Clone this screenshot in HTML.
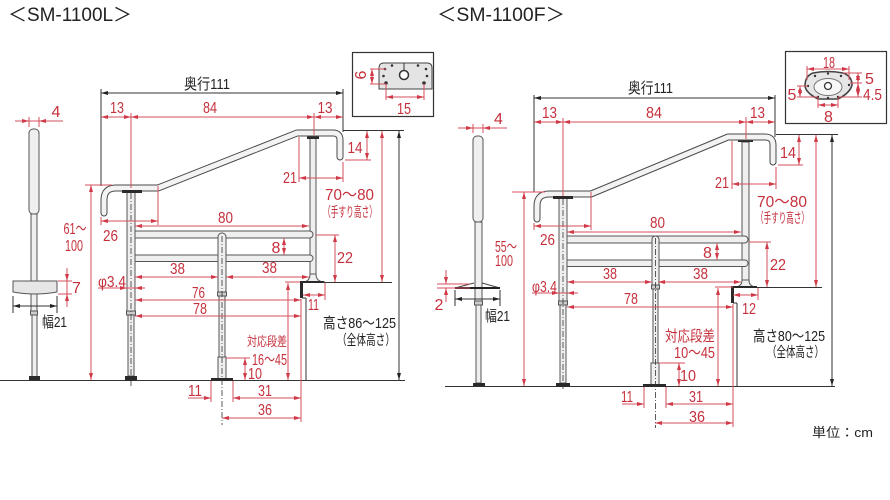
<!DOCTYPE html>
<html><head><meta charset="utf-8">
<style>
html,body{margin:0;padding:0;background:#fff;}
svg{display:block;}
text{font-family:"Liberation Sans","Noto Sans CJK JP",sans-serif;}
.r{fill:#c5303c;font-size:16px;}
.k{fill:#222;font-size:15px;}
.d{stroke:#d4505c;stroke-width:1;fill:none;}
.d2{stroke:#d4505c;stroke-width:1;fill:none;marker-start:url(#ar);marker-end:url(#ar);}
.d1{stroke:#d4505c;stroke-width:1;fill:none;marker-end:url(#ar);}
.b{stroke:#333;stroke-width:1;fill:none;}
.b2{stroke:#333;stroke-width:1;fill:none;marker-start:url(#ak);marker-end:url(#ak);}
.cl{stroke:#333;stroke-width:0.8;stroke-dasharray:6 2 1 2;fill:none;}
.p{fill:#efefef;stroke:#555;stroke-width:1;}
.dk{fill:#2a2a2a;}
</style></head><body>
<svg width="890" height="500" viewBox="0 0 890 500" xmlns="http://www.w3.org/2000/svg">
<defs>
<marker id="ar" viewBox="0 0 10 10" refX="10" refY="5" markerWidth="7" markerHeight="5" orient="auto-start-reverse" markerUnits="userSpaceOnUse" preserveAspectRatio="none"><path d="M0,1L10,5L0,9z" fill="#d03a48"/></marker>
<marker id="ak" viewBox="0 0 10 10" refX="10" refY="5" markerWidth="7" markerHeight="5" orient="auto-start-reverse" markerUnits="userSpaceOnUse" preserveAspectRatio="none"><path d="M0,1L10,5L0,9z" fill="#222"/></marker>
</defs>

<!-- ================= LEFT : SM-1100L ================= -->
<text x="8" y="21" class="k" style="font-size:19px" textLength="124" lengthAdjust="spacingAndGlyphs">＜SM-1100L＞</text>

<!-- side view post -->
<rect x="29" y="129" width="10" height="85" rx="4" class="p"/>
<rect x="31" y="214" width="6" height="97" class="p"/>
<rect x="30.5" y="311" width="7" height="4" fill="#ccc" stroke="#555"/>
<rect x="32" y="315" width="5" height="62" class="p"/>
<rect x="29" y="376" width="11" height="4" class="dk"/>
<path d="M13,281 L57,281 L57,292 Q35,296 13,292 Z" fill="#e6e6e6" stroke="#555"/>

<!-- ground / floors -->
<line x1="0" y1="380.5" x2="405" y2="380.5" class="b"/>
<line x1="300" y1="282.5" x2="392" y2="282.5" class="b"/>
<line x1="306" y1="298" x2="306" y2="380" class="b"/>
<line x1="302" y1="298" x2="306" y2="298" class="b"/>

<!-- right post -->
<rect x="310" y="138" width="6" height="140" class="p"/>
<path d="M310,274 Q310,282 302,282 L325,282 Q316,282 316,274 Z" class="p"/>
<rect x="307" y="136" width="12" height="3" class="dk"/>
<rect x="303" y="134.5" width="22" height="2" class="dk"/>
<rect x="300" y="281" width="3" height="17" class="dk"/>
<rect x="300" y="281" width="24" height="2" class="dk"/>

<!-- rails -->
<rect x="131" y="231" width="182" height="7" rx="3.5" class="p"/>
<rect x="131" y="255" width="182" height="6.5" rx="3.2" class="p"/>

<!-- center post -->
<rect x="218" y="233" width="8" height="61" rx="4" class="p"/>
<rect x="217.5" y="292" width="9" height="4" fill="#ccc" stroke="#555"/>
<rect x="219" y="296" width="6" height="61" class="p"/>
<rect x="218" y="357" width="8" height="22" class="p"/>
<rect x="211" y="378" width="22" height="3" class="dk"/>

<!-- left post -->
<rect x="127" y="191" width="8" height="120" class="p"/>
<rect x="126.5" y="311" width="9" height="4" fill="#ccc" stroke="#555"/>
<rect x="128" y="315" width="6" height="61" class="p"/>
<rect x="125" y="376" width="12" height="5" class="dk"/>

<!-- handrail -->
<path d="M104,213 L104,200 Q104,188 116,188 L158,188 L297,133 L333,133 Q340,133 340,140 L340,157" stroke="#4a4a4a" stroke-width="7" fill="none" stroke-linecap="round" stroke-linejoin="round"/>
<path d="M104,213 L104,200 Q104,188 116,188 L158,188 L297,133 L333,133 Q340,133 340,140 L340,157" stroke="#f3f3f3" stroke-width="5" fill="none" stroke-linecap="round" stroke-linejoin="round"/>
<rect x="122" y="190" width="20" height="3" class="dk"/>

<!-- centerlines -->
<line x1="131" y1="193" x2="131" y2="386" class="cl"/>
<line x1="222" y1="236" x2="222" y2="425" class="cl"/>

<!-- black dims -->
<line x1="101" y1="93" x2="343" y2="93" class="b2"/>
<line x1="101" y1="89" x2="101" y2="186" class="b"/>
<line x1="343" y1="89" x2="343" y2="132" class="b"/>
<line x1="343" y1="130.5" x2="404" y2="130.5" class="b"/>
<line x1="399" y1="131" x2="399" y2="380" class="b2"/>
<line x1="13" y1="306" x2="57" y2="306" class="b2"/>
<line x1="13" y1="296" x2="13" y2="313" class="b"/>
<line x1="57" y1="296" x2="57" y2="313" class="b"/>

<!-- red dims -->
<line x1="101" y1="117" x2="131" y2="117" class="d2"/>
<line x1="131" y1="117" x2="314" y2="117" class="d2"/>
<line x1="314" y1="117" x2="343" y2="117" class="d2"/>
<line x1="131" y1="113" x2="131" y2="188" class="d"/>
<line x1="314" y1="113" x2="314" y2="135" class="d"/>
<line x1="299" y1="137" x2="299" y2="182" class="d"/>
<line x1="343" y1="162" x2="343" y2="182" class="d"/>
<line x1="299" y1="178" x2="343" y2="178" class="d2"/>
<line x1="367" y1="131" x2="367" y2="160" class="d2"/>
<line x1="345" y1="160" x2="371" y2="160" class="d"/>
<line x1="382" y1="131" x2="382" y2="282" class="d2"/>
<line x1="135" y1="226" x2="309" y2="226" class="d2"/>
<line x1="284" y1="238" x2="284" y2="255" class="d2"/>
<line x1="316" y1="235" x2="339" y2="235" class="d"/>
<line x1="335" y1="235" x2="335" y2="282" class="d2"/>
<line x1="101" y1="221" x2="158" y2="221" class="d2"/>
<line x1="158" y1="186" x2="158" y2="225" class="d"/>
<line x1="101" y1="217" x2="101" y2="225" class="d"/>
<line x1="85" y1="185" x2="112" y2="185" class="d"/>
<line x1="91" y1="185" x2="91" y2="380" class="d2"/>
<line x1="135" y1="277" x2="218" y2="277" class="d2"/>
<line x1="226" y1="277" x2="309" y2="277" class="d2"/>
<line x1="98" y1="288" x2="145" y2="288" class="d"/>
<line x1="110" y1="288" x2="127" y2="288" class="d1"/>
<line x1="145" y1="288" x2="135" y2="288" class="d1"/>
<line x1="135" y1="300" x2="301" y2="300" class="d2"/>
<line x1="135" y1="316" x2="301" y2="316" class="d2"/>
<line x1="303" y1="295" x2="325" y2="295" class="d2"/>
<line x1="325" y1="283" x2="325" y2="300" class="d"/>
<line x1="285" y1="282" x2="300" y2="282" class="d"/>
<line x1="288" y1="283" x2="288" y2="380" class="d2"/>
<line x1="226" y1="358" x2="250" y2="358" class="d"/>
<line x1="245" y1="358" x2="245" y2="380" class="d2"/>
<line x1="211" y1="381" x2="211" y2="402" class="d"/>
<line x1="233" y1="381" x2="233" y2="402" class="d"/>
<line x1="301" y1="299" x2="301" y2="422" class="d"/>
<line x1="188" y1="398" x2="211" y2="398" class="d1"/>
<line x1="233" y1="398" x2="301" y2="398" class="d2"/>
<line x1="222" y1="418" x2="301" y2="418" class="d2"/>
<!-- side 4 / 7 -->
<line x1="15" y1="121" x2="63" y2="121" class="d"/>
<line x1="15" y1="121" x2="29" y2="121" class="d1"/>
<line x1="63" y1="121" x2="39" y2="121" class="d1"/>
<line x1="29" y1="117" x2="29" y2="127" class="d"/>
<line x1="39" y1="117" x2="39" y2="127" class="d"/>
<line x1="58" y1="281" x2="72" y2="281" class="d"/>
<line x1="58" y1="294" x2="72" y2="294" class="d"/>
<line x1="67" y1="268" x2="67" y2="307" class="d"/>
<line x1="67" y1="268" x2="67" y2="281" class="d1"/>
<line x1="67" y1="307" x2="67" y2="294" class="d1"/>

<!-- left inset -->
<rect x="352.5" y="52.5" width="81" height="64" fill="none" stroke="#333" stroke-width="1.2"/>
<path d="M379,89 L379,68 Q379,63 384,63 L427,63 Q432,63 432,68 L432,89 Z" fill="#e4e4e4" stroke="#444"/>
<line x1="404" y1="63" x2="404" y2="71" stroke="#333"/>
<circle cx="404" cy="75" r="4.5" fill="#fff" stroke="#333" stroke-width="1.5"/>
<g fill="#333"><circle cx="385" cy="69" r="1.3"/><circle cx="392" cy="65.5" r="1.3"/><circle cx="418" cy="65.5" r="1.3"/><circle cx="426" cy="69" r="1.3"/><circle cx="383.5" cy="76" r="1.3"/><circle cx="427" cy="76" r="1.3"/><circle cx="386" cy="83" r="1.8"/><circle cx="424" cy="83" r="1.8"/></g>
<line x1="370" y1="69" x2="386" y2="69" class="d"/>
<line x1="370" y1="84" x2="386" y2="84" class="d"/>
<line x1="372" y1="69" x2="372" y2="84" class="d2"/>
<line x1="386" y1="84" x2="386" y2="100" class="d"/>
<line x1="424" y1="84" x2="424" y2="100" class="d"/>
<line x1="386" y1="97" x2="424" y2="97" class="d2"/>
<text x="404" y="114" class="r" text-anchor="middle" textLength="14" lengthAdjust="spacingAndGlyphs">15</text>
<text transform="translate(366,75) rotate(-90)" class="r" text-anchor="middle">6</text>

<!-- left texts -->
<text x="207" y="89" class="k" text-anchor="middle" textLength="46" lengthAdjust="spacingAndGlyphs">奥行111</text>
<text x="117" y="113" class="r" text-anchor="middle" textLength="14" lengthAdjust="spacingAndGlyphs">13</text>
<text x="210" y="113" class="r" text-anchor="middle" textLength="14" lengthAdjust="spacingAndGlyphs">84</text>
<text x="325" y="113" class="r" text-anchor="middle" textLength="15" lengthAdjust="spacingAndGlyphs">13</text>
<text x="56" y="117" class="r" text-anchor="middle">4</text>
<text x="355" y="153" class="r" text-anchor="middle" textLength="15" lengthAdjust="spacingAndGlyphs">14</text>
<text x="290" y="183" class="r" text-anchor="middle" textLength="14" lengthAdjust="spacingAndGlyphs">21</text>
<text x="349.5" y="200" class="r" style="font-size:16px" text-anchor="middle" textLength="49" lengthAdjust="spacingAndGlyphs">70～80</text>
<text x="350" y="217" class="r" style="font-size:14px" text-anchor="middle" textLength="54" lengthAdjust="spacingAndGlyphs">（手すり高さ）</text>
<text x="225.5" y="223" class="r" text-anchor="middle" textLength="15" lengthAdjust="spacingAndGlyphs">80</text>
<text x="276" y="253" class="r" text-anchor="middle">8</text>
<text x="345" y="263" class="r" text-anchor="middle" textLength="16" lengthAdjust="spacingAndGlyphs">22</text>
<text x="75" y="234" class="r" text-anchor="middle" textLength="23" lengthAdjust="spacingAndGlyphs">61～</text>
<text x="74" y="251" class="r" text-anchor="middle" textLength="18" lengthAdjust="spacingAndGlyphs">100</text>
<text x="110.5" y="241" class="r" text-anchor="middle" textLength="15" lengthAdjust="spacingAndGlyphs">26</text>
<text x="76.5" y="293" class="r" text-anchor="middle">7</text>
<text x="54.5" y="327" class="k" text-anchor="middle" textLength="25" lengthAdjust="spacingAndGlyphs">幅21</text>
<text x="177.5" y="274" class="r" text-anchor="middle" textLength="15" lengthAdjust="spacingAndGlyphs">38</text>
<text x="269.5" y="273" class="r" text-anchor="middle" textLength="15" lengthAdjust="spacingAndGlyphs">38</text>
<text x="112" y="287" class="r" text-anchor="middle" textLength="28" lengthAdjust="spacingAndGlyphs">φ3.4</text>
<text x="198.5" y="298" class="r" text-anchor="middle" textLength="13" lengthAdjust="spacingAndGlyphs">76</text>
<text x="200" y="314" class="r" text-anchor="middle" textLength="14" lengthAdjust="spacingAndGlyphs">78</text>
<text x="267" y="346" class="r" style="font-size:13px" text-anchor="middle" textLength="40" lengthAdjust="spacingAndGlyphs">対応段差</text>
<text x="269.5" y="365" class="r" text-anchor="middle" textLength="35" lengthAdjust="spacingAndGlyphs">16～45</text>
<text x="255" y="379" class="r" text-anchor="middle" textLength="14" lengthAdjust="spacingAndGlyphs">10</text>
<text x="313.5" y="310" class="r" text-anchor="middle" textLength="11" lengthAdjust="spacingAndGlyphs">11</text>
<text x="195" y="396" class="r" text-anchor="middle" textLength="14" lengthAdjust="spacingAndGlyphs">11</text>
<text x="265" y="396" class="r" text-anchor="middle" textLength="14" lengthAdjust="spacingAndGlyphs">31</text>
<text x="265" y="415" class="r" text-anchor="middle" textLength="14" lengthAdjust="spacingAndGlyphs">36</text>
<text x="359.5" y="328" class="k" text-anchor="middle" textLength="73" lengthAdjust="spacingAndGlyphs">高さ86～125</text>
<text x="366" y="345" class="k" style="font-size:14px" text-anchor="middle" textLength="58" lengthAdjust="spacingAndGlyphs">（全体高さ）</text>

<!-- ================= RIGHT : SM-1100F ================= -->
<text x="437" y="21" class="k" style="font-size:19px" textLength="128" lengthAdjust="spacingAndGlyphs">＜SM-1100F＞</text>

<!-- side view post -->
<rect x="473" y="136" width="10" height="86" rx="4" class="p"/>
<rect x="475" y="222" width="7" height="79" class="p"/>
<rect x="474.5" y="301" width="8" height="4" fill="#ccc" stroke="#555"/>
<rect x="476" y="305" width="5" height="78" class="p"/>
<rect x="473" y="383" width="12" height="3.5" class="dk"/>
<line x1="455" y1="288" x2="474" y2="283" stroke="#444"/>
<line x1="482" y1="283" x2="500" y2="288" stroke="#444"/>
<line x1="455" y1="288" x2="500" y2="288" stroke="#222" stroke-width="2"/>

<!-- ground / floors -->
<line x1="445" y1="386.5" x2="835" y2="386.5" class="b"/>
<line x1="732" y1="287.5" x2="822" y2="287.5" class="b"/>
<line x1="737" y1="303" x2="737" y2="386" class="b"/>
<line x1="733" y1="303" x2="737" y2="303" class="b"/>

<!-- right post -->
<rect x="742" y="142" width="7" height="139" class="p"/>
<path d="M742,280 Q742,287 734,287 L757,287 Q749,287 749,280 Z" class="p"/>
<rect x="738" y="139" width="15" height="3" class="dk"/>
<rect x="731" y="286" width="3" height="17" class="dk"/>
<rect x="731" y="286" width="26" height="2" class="dk"/>

<!-- rails -->
<rect x="563" y="236" width="185" height="7" rx="3.5" class="p"/>
<rect x="563" y="260" width="185" height="6.5" rx="3.2" class="p"/>

<!-- center post -->
<rect x="652" y="236" width="7" height="51" rx="3.5" class="p"/>
<rect x="651.5" y="285" width="8" height="4" fill="#ccc" stroke="#555"/>
<rect x="653" y="289" width="5" height="74" class="p"/>
<rect x="651" y="363" width="8" height="22" class="p"/>
<rect x="643" y="384" width="23" height="3" class="dk"/>

<!-- left post -->
<rect x="559" y="196" width="8" height="105" class="p"/>
<rect x="558.5" y="301" width="9" height="4" fill="#ccc" stroke="#555"/>
<rect x="560" y="305" width="6" height="78" class="p"/>
<rect x="556" y="383" width="14" height="4" class="dk"/>

<!-- handrail -->
<path d="M537,219 L537,206 Q537,194 549,194 L591,194 L728,137 L765,137 Q773,137 773,145 L773,162" stroke="#4a4a4a" stroke-width="7" fill="none" stroke-linecap="round" stroke-linejoin="round"/>
<path d="M537,219 L537,206 Q537,194 549,194 L591,194 L728,137 L765,137 Q773,137 773,145 L773,162" stroke="#f3f3f3" stroke-width="5" fill="none" stroke-linecap="round" stroke-linejoin="round"/>
<rect x="553" y="196" width="20" height="3" class="dk"/>

<!-- centerlines -->
<line x1="563" y1="199" x2="563" y2="389" class="cl"/>
<line x1="655.5" y1="238" x2="655.5" y2="428" class="cl"/>

<!-- black dims -->
<line x1="534" y1="98" x2="775" y2="98" class="b2"/>
<line x1="534" y1="95" x2="534" y2="192" class="b"/>
<line x1="775" y1="95" x2="775" y2="137" class="b"/>
<line x1="776" y1="134.5" x2="838" y2="134.5" class="b"/>
<line x1="832" y1="135" x2="832" y2="386" class="b2"/>
<line x1="455" y1="299" x2="500" y2="299" class="b2"/>
<line x1="455" y1="290" x2="455" y2="306" class="b"/>
<line x1="500" y1="290" x2="500" y2="306" class="b"/>

<!-- red dims -->
<line x1="534" y1="122" x2="563" y2="122" class="d2"/>
<line x1="563" y1="122" x2="746" y2="122" class="d2"/>
<line x1="746" y1="122" x2="775" y2="122" class="d2"/>
<line x1="563" y1="118" x2="563" y2="196" class="d"/>
<line x1="746" y1="117" x2="746" y2="139" class="d"/>
<line x1="732" y1="141" x2="732" y2="189" class="d"/>
<line x1="776" y1="167" x2="776" y2="189" class="d"/>
<line x1="732" y1="184" x2="776" y2="184" class="d2"/>
<line x1="799" y1="135" x2="799" y2="165" class="d2"/>
<line x1="778" y1="165" x2="803" y2="165" class="d"/>
<line x1="816" y1="135" x2="816" y2="287" class="d2"/>
<line x1="567" y1="232" x2="741" y2="232" class="d2"/>
<line x1="717" y1="243" x2="717" y2="260" class="d2"/>
<line x1="749" y1="242" x2="771" y2="242" class="d"/>
<line x1="767" y1="242" x2="767" y2="287" class="d2"/>
<line x1="534" y1="226" x2="591" y2="226" class="d2"/>
<line x1="591" y1="192" x2="591" y2="230" class="d"/>
<line x1="534" y1="223" x2="534" y2="230" class="d"/>
<line x1="512" y1="192" x2="545" y2="192" class="d"/>
<line x1="524" y1="192" x2="524" y2="386" class="d2"/>
<line x1="567" y1="282" x2="652" y2="282" class="d2"/>
<line x1="658" y1="282" x2="741" y2="282" class="d2"/>
<line x1="532" y1="293" x2="578" y2="293" class="d"/>
<line x1="545" y1="293" x2="559" y2="293" class="d1"/>
<line x1="578" y1="293" x2="567" y2="293" class="d1"/>
<line x1="567" y1="307" x2="733" y2="307" class="d2"/>
<line x1="733" y1="295" x2="758" y2="295" class="d2"/>
<line x1="758" y1="288" x2="758" y2="300" class="d"/>
<line x1="715" y1="287" x2="733" y2="287" class="d"/>
<line x1="718" y1="288" x2="718" y2="386" class="d2"/>
<line x1="659" y1="363" x2="685" y2="363" class="d"/>
<line x1="679" y1="363" x2="679" y2="386" class="d2"/>
<line x1="644" y1="387" x2="644" y2="408" class="d"/>
<line x1="666" y1="387" x2="666" y2="408" class="d"/>
<line x1="733" y1="304" x2="733" y2="427" class="d"/>
<line x1="622" y1="404" x2="644" y2="404" class="d1"/>
<line x1="666" y1="404" x2="733" y2="404" class="d2"/>
<line x1="655" y1="423" x2="733" y2="423" class="d2"/>
<!-- side 4 / 2 -->
<line x1="458" y1="128" x2="507" y2="128" class="d"/>
<line x1="458" y1="128" x2="473" y2="128" class="d1"/>
<line x1="507" y1="128" x2="483" y2="128" class="d1"/>
<line x1="473" y1="124" x2="473" y2="133" class="d"/>
<line x1="483" y1="124" x2="483" y2="133" class="d"/>
<line x1="437" y1="284" x2="470" y2="284" class="d"/>
<line x1="437" y1="288" x2="470" y2="288" class="d"/>
<line x1="446" y1="270" x2="446" y2="284" class="d1"/>
<line x1="446" y1="302" x2="446" y2="288" class="d1"/>

<!-- right inset -->
<rect x="785.5" y="51.5" width="101" height="72" fill="none" stroke="#333" stroke-width="1.2"/>
<path d="M813,73 Q828,70 843,73 Q852,76 852,85 Q850,93 838,99 L818,99 Q806,93 805,86 Q805,76 813,73 Z" fill="#e6e6e6" stroke="#444" stroke-width="1.6"/>
<ellipse cx="828" cy="87" rx="14" ry="8.5" fill="#f7f7f7" stroke="#777"/>
<circle cx="828" cy="86" r="3.5" fill="#fff" stroke="#333" stroke-width="1.3"/>
<g fill="#333"><circle cx="815" cy="76" r="1.2"/><circle cx="828" cy="73.5" r="1.2"/><circle cx="841" cy="76" r="1.2"/><circle cx="808" cy="86" r="1.2"/><circle cx="849" cy="85" r="1.2"/><circle cx="818" cy="97" r="1.2"/><circle cx="838" cy="97" r="1.2"/><circle cx="828" cy="98" r="1.2"/></g>
<line x1="807" y1="66" x2="807" y2="80" class="d"/>
<line x1="849" y1="66" x2="849" y2="80" class="d"/>
<line x1="807" y1="69" x2="849" y2="69" class="d2"/>
<line x1="843" y1="73" x2="862" y2="73" class="d"/>
<line x1="850" y1="83" x2="862" y2="83" class="d"/>
<line x1="838" y1="97" x2="862" y2="97" class="d"/>
<line x1="858" y1="73" x2="858" y2="83" class="d2"/>
<line x1="858" y1="83" x2="858" y2="97" class="d2"/>
<line x1="797" y1="86" x2="808" y2="86" class="d"/>
<line x1="797" y1="97" x2="818" y2="97" class="d"/>
<line x1="800" y1="86" x2="800" y2="97" class="d2"/>
<line x1="818" y1="98" x2="818" y2="108" class="d"/>
<line x1="838" y1="98" x2="838" y2="108" class="d"/>
<line x1="818" y1="105" x2="838" y2="105" class="d2"/>
<text x="829" y="68" class="r" text-anchor="middle" textLength="12" lengthAdjust="spacingAndGlyphs">18</text>
<text x="869.5" y="84" class="r" text-anchor="middle">5</text>
<text x="872.5" y="100" class="r" text-anchor="middle" textLength="19" lengthAdjust="spacingAndGlyphs">4.5</text>
<text x="792" y="100" class="r" text-anchor="middle">5</text>
<text x="828.5" y="122" class="r" text-anchor="middle">8</text>

<!-- right texts -->
<text x="650.5" y="93" class="k" text-anchor="middle" textLength="45" lengthAdjust="spacingAndGlyphs">奥行111</text>
<text x="498.5" y="124" class="r" text-anchor="middle">4</text>
<text x="549.5" y="118" class="r" text-anchor="middle" textLength="15" lengthAdjust="spacingAndGlyphs">13</text>
<text x="654" y="118" class="r" text-anchor="middle" textLength="16" lengthAdjust="spacingAndGlyphs">84</text>
<text x="757.5" y="118" class="r" text-anchor="middle" textLength="15" lengthAdjust="spacingAndGlyphs">13</text>
<text x="788" y="158" class="r" text-anchor="middle" textLength="16" lengthAdjust="spacingAndGlyphs">14</text>
<text x="722" y="188" class="r" text-anchor="middle" textLength="14" lengthAdjust="spacingAndGlyphs">21</text>
<text x="782" y="207" class="r" style="font-size:16px" text-anchor="middle" textLength="50" lengthAdjust="spacingAndGlyphs">70～80</text>
<text x="782.5" y="223" class="r" style="font-size:14px" text-anchor="middle" textLength="53" lengthAdjust="spacingAndGlyphs">（手すり高さ）</text>
<text x="657.5" y="228" class="r" text-anchor="middle" textLength="15" lengthAdjust="spacingAndGlyphs">80</text>
<text x="707.5" y="258" class="r" text-anchor="middle">8</text>
<text x="778" y="270" class="r" text-anchor="middle" textLength="16" lengthAdjust="spacingAndGlyphs">22</text>
<text x="506" y="252" class="r" text-anchor="middle" textLength="22" lengthAdjust="spacingAndGlyphs">55～</text>
<text x="504" y="266" class="r" text-anchor="middle" textLength="18" lengthAdjust="spacingAndGlyphs">100</text>
<text x="547.5" y="245" class="r" text-anchor="middle" textLength="15" lengthAdjust="spacingAndGlyphs">26</text>
<text x="439" y="310" class="r" text-anchor="middle">2</text>
<text x="497.5" y="321" class="k" text-anchor="middle" textLength="25" lengthAdjust="spacingAndGlyphs">幅21</text>
<text x="610" y="279" class="r" text-anchor="middle" textLength="14" lengthAdjust="spacingAndGlyphs">38</text>
<text x="700.5" y="279" class="r" text-anchor="middle" textLength="15" lengthAdjust="spacingAndGlyphs">38</text>
<text x="544.5" y="292" class="r" text-anchor="middle" textLength="25" lengthAdjust="spacingAndGlyphs">φ3.4</text>
<text x="631" y="304" class="r" text-anchor="middle" textLength="14" lengthAdjust="spacingAndGlyphs">78</text>
<text x="690" y="341" class="r" style="font-size:15px" text-anchor="middle" textLength="50" lengthAdjust="spacingAndGlyphs">対応段差</text>
<text x="694.5" y="358" class="r" text-anchor="middle" textLength="41" lengthAdjust="spacingAndGlyphs">10～45</text>
<text x="688" y="381" class="r" text-anchor="middle" textLength="16" lengthAdjust="spacingAndGlyphs">10</text>
<text x="749" y="314" class="r" text-anchor="middle" textLength="14" lengthAdjust="spacingAndGlyphs">12</text>
<text x="627" y="402" class="r" text-anchor="middle" textLength="12" lengthAdjust="spacingAndGlyphs">11</text>
<text x="696" y="402" class="r" text-anchor="middle" textLength="14" lengthAdjust="spacingAndGlyphs">31</text>
<text x="697" y="422" class="r" text-anchor="middle" textLength="16" lengthAdjust="spacingAndGlyphs">36</text>
<text x="789" y="341" class="k" text-anchor="middle" textLength="72" lengthAdjust="spacingAndGlyphs">高さ80～125</text>
<text x="795.5" y="357" class="k" style="font-size:14px" text-anchor="middle" textLength="57" lengthAdjust="spacingAndGlyphs">（全体高さ）</text>
<text x="842.5" y="437" class="k" style="font-size:13px" text-anchor="middle" textLength="61" lengthAdjust="spacingAndGlyphs">単位：cm</text>
</svg>
</body></html>
